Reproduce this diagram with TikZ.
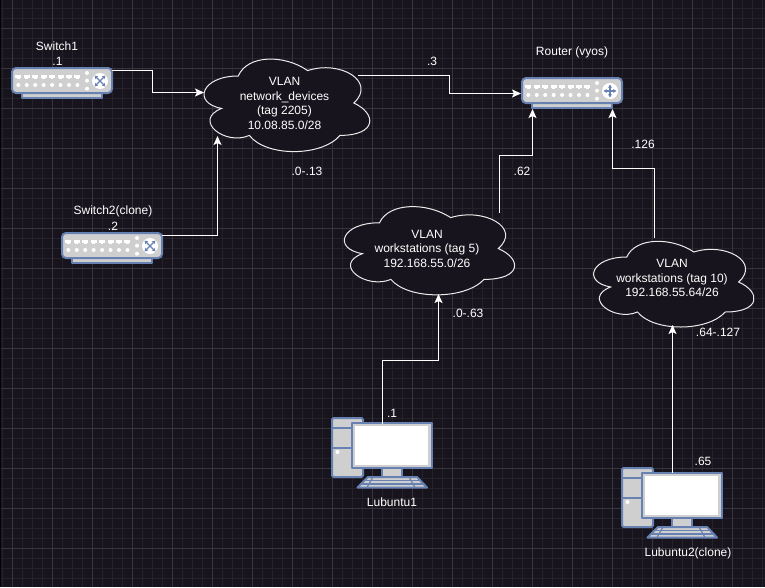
\documentclass[tikz,border=0pt]{standalone}
\usepackage{fontspec}
\setmainfont{Liberation Sans}
\usetikzlibrary{arrows.meta}
\definecolor{bgc}{HTML}{18141D}
\definecolor{gridmaj}{HTML}{38363C}
\definecolor{gridmin}{HTML}{25222A}
\definecolor{iconblue}{HTML}{6881B3}
\definecolor{iconfill}{HTML}{CFCFCF}
\tikzset{
  lbl/.style={text=white,font=\fontsize{12}{14.5}\selectfont,inner sep=0pt,align=center},
  link/.style={draw=white,line width=1pt,-{Stealth[length=9pt,width=8pt,inset=2pt]}},
  cloudline/.style={draw=white!92!black,fill=bgc,line width=1pt},
  iconline/.style={draw=iconblue,line width=2pt,line join=round},
  anchorbox/.style={inner sep=0pt,minimum width=#1,minimum height=27pt},
  netdev/.pic={
    \draw[iconline,fill=iconfill] (10,25) rectangle (90,30);
    \draw[iconline,fill=iconfill,rounded corners=4pt] (0,0) rectangle (100,25);
    \foreach \i in {0,...,7}{
      \fill[white] ({6.3+8.45*\i-3},7) rectangle ({6.3+8.45*\i+3},9.5);
      \fill[white] ({6.3+8.45*\i-1.3},9) rectangle ({6.3+8.45*\i+1.3},11);
      \fill[white] ({6.3+8.45*\i},17) circle (2);
    }
    \foreach \j in {5,12.7,20.7}{\fill[white] (75,\j) circle (2);}
    \fill[white] (88,13) circle (8);
  },
  xarrows/.pic={
    \draw[draw=iconblue,line width=1.3pt,{Stealth[length=3.5pt,width=4pt]}-{Stealth[length=3.5pt,width=4pt]}] (82.5,7.5) -- (93.5,18.5);
    \draw[draw=iconblue,line width=1.3pt,{Stealth[length=3.5pt,width=4pt]}-{Stealth[length=3.5pt,width=4pt]}] (93.5,7.5) -- (82.5,18.5);
  },
  parrows/.pic={
    \draw[draw=iconblue,line width=1.3pt,{Stealth[length=3.5pt,width=4pt]}-{Stealth[length=3.5pt,width=4pt]}] (81.5,13) -- (94.5,13);
    \draw[draw=iconblue,line width=1.3pt,{Stealth[length=3.5pt,width=4pt]}-{Stealth[length=3.5pt,width=4pt]}] (88,6.5) -- (88,19.5);
  },
  computer/.pic={
    \draw[iconline,fill=iconfill,rounded corners=1.5pt] (1,1) rectangle (32,60);
    \draw[iconline] (1,11) -- (32,11);
    \draw[iconline] (1,31) -- (32,31);
    \fill[white] (6.5,35) circle (2);
    \draw[iconline,fill=iconfill] (51,51) rectangle (71,60);
    \draw[iconline,fill=iconfill] (37,60) -- (86,60) -- (96,70.5) -- (26.5,70.5) -- cycle;
    \draw[draw=iconblue,line width=1.2pt] (33,63.5) -- (90,63.5) (30,67) -- (93,67);
    \draw[draw=iconblue,line width=1.2pt] (42,60) -- (36,70.5) (78,60) -- (84,70.5);
    \draw[iconline,fill=iconfill] (21,6) rectangle (101,51);
    \fill[white] (24,9) rectangle (97,48);
  },
}
\newcommand{\vcloud}[4]{%
  \begin{scope}[xshift=#1pt,yshift=-#2pt,x=#3pt,y=-#4pt]
    \path[cloudline] (.25,.25) .. controls (.05,.25) and (0,.5) .. (.16,.55)
      .. controls (0,.66) and (.18,.9) .. (.31,.8)
      .. controls (.4,1) and (.7,1) .. (.8,.8)
      .. controls (1,.8) and (1,.6) .. (.875,.5)
      .. controls (1,.3) and (.8,.1) .. (.625,.2)
      .. controls (.5,.05) and (.3,.05) .. (.25,.25) -- cycle;
  \end{scope}}
\begin{document}
\begin{tikzpicture}[x=1pt,y=-1pt]
\useasboundingbox (0,0) rectangle (765,587);
\fill[bgc] (0,0) rectangle (765,587);
% grid
\foreach \gx in {2,12,...,762}{\draw[gridmin,line width=1pt] (\gx.5,0) -- (\gx.5,587);}
\foreach \gy in {8,18,...,578}{\draw[gridmin,line width=1pt] (0,\gy.5) -- (765,\gy.5);}
\foreach \gx in {12,52,...,752}{\draw[gridmaj,line width=1pt] (\gx.5,0) -- (\gx.5,587);}
\foreach \gy in {28,68,...,548}{\draw[gridmaj,line width=1pt] (0,\gy.5) -- (765,\gy.5);}
\fill[black!80!bgc] (0,0) rectangle (1,587);

% clouds
\vcloud{192}{49}{185}{108}
\vcloud{332}{197}{190}{103}
\vcloud{582}{232}{179}{100}

% cloud text nodes
\node[lbl] (cloudA) at (284.5,103.5) {VLAN\\network\_devices\\(tag 2205)\\10.08.85.0/28};
\node[lbl] (cloudB) at (427,248.5) {VLAN\\workstations (tag 5)\\192.168.55.0/26};
\node[lbl] (cloudC) at (672,278) {VLAN\\workstations (tag 10)\\192.168.55.64/26};

% icons with named anchor boxes
\pic at (12,68) {netdev}; \pic at (12,68) {xarrows};
\pic at (522,78) {netdev}; \pic at (522,78) {parrows};
\pic at (62,233) {netdev}; \pic at (62,233) {xarrows};
\pic at (331,417) {computer};
\pic at (621,467) {computer};
\node[anchorbox=102pt] (sw1) at (62,81) {};
\node[anchorbox=102pt] (router) at (572,91) {};
\node[anchorbox=102pt] (sw2) at (112,246) {};
\node[inner sep=0pt,minimum width=82pt,minimum height=47pt] (pc1) at (392,446) {};
\node[inner sep=0pt,minimum width=82pt,minimum height=47pt] (pc2) at (682,496) {};

% named ports
\coordinate (a1) at (204,92.5);
\coordinate (a2) at (217.5,136);
\coordinate (a3) at (358,75.5);
\coordinate (b1) at (499.5,213);
\coordinate (b2) at (438.5,294);
\coordinate (c1) at (654.5,238);
\coordinate (c2) at (672.5,325);
\coordinate (r1) at (521,93.5);
\coordinate (r2) at (532.5,109);
\coordinate (r3) at (612.5,109);
\coordinate (s1) at (112,70);
\coordinate (s2) at (162,235.5);
\coordinate (p1) at (382.5,424);
\coordinate (p2) at (672.5,473);

% connectors
\draw[link] (s1) -- (152.5,70) |- (a1);
\draw[link] (s2) -| (a2);
\draw[link] (a3) -- (449.5,75.5) |- (r1);
\draw[link] (b1) -- (499.5,155.5) -| (r2);
\draw[link] (c1) -- (654.5,168.5) -| (r3);
\draw[link] (p1) -- (382.5,360.5) -| (b2);
\draw[link] (p2) -- (c2);

% labels
\node[lbl] (t1) at (57,46) {Switch1};
\node[lbl] (t2) at (57.5,61) {.1};
\node[lbl] (t3) at (572,52) {Router (vyos)};
\node[lbl] (t4) at (432,61) {.3};
\node[lbl] (t5) at (307,171) {.0-.13};
\node[lbl] (t6) at (113,211) {Switch2(clone)};
\node[lbl] (t7) at (113,226) {.2};
\node[lbl] (t8) at (522,171) {.62};
\node[lbl] (t9) at (643,144) {.126};
\node[lbl] (t10) at (468,313) {.0-.63};
\node[lbl] (t11) at (718,332) {.64-.127};
\node[lbl] (t12) at (392,413) {.1};
\node[lbl] (t13) at (392,502) {Lubuntu1};
\node[lbl] (t14) at (703,461) {.65};
\node[lbl] (t15) at (688,553) {Lubuntu2(clone)};
\end{tikzpicture}
\end{document}
